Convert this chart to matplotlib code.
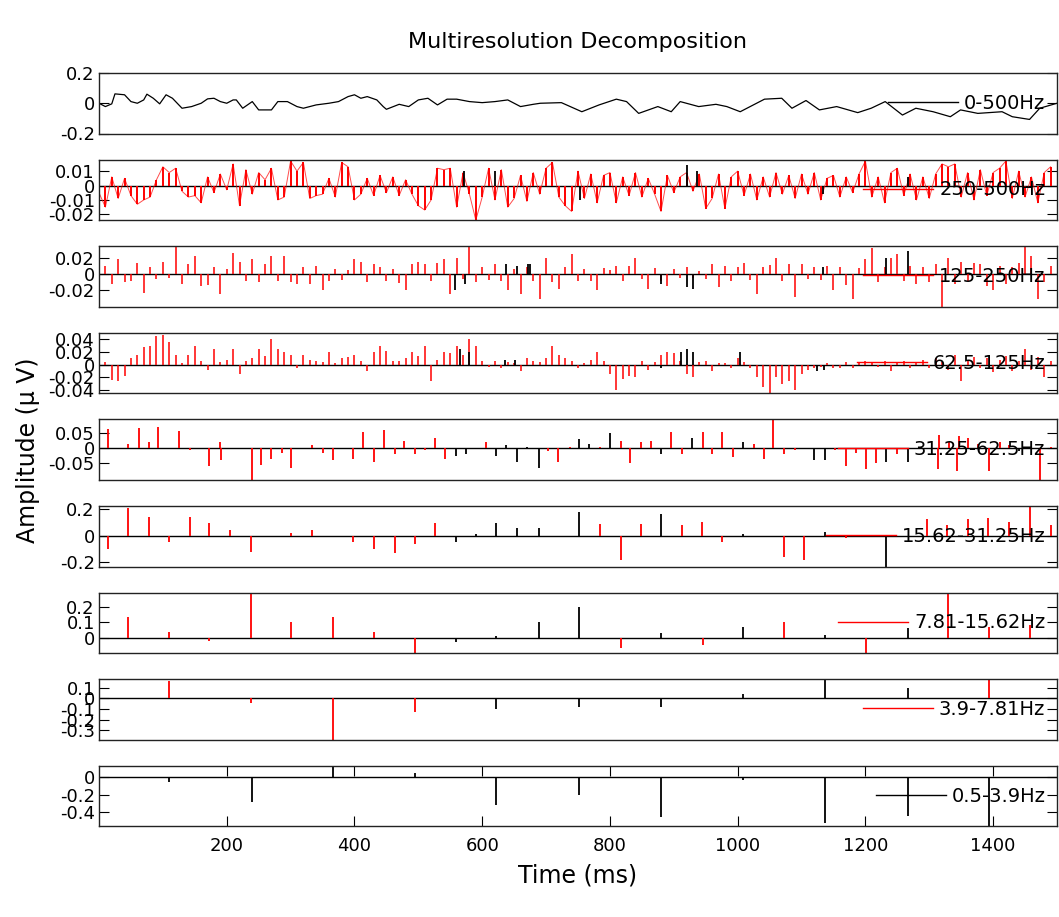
import numpy as np
import matplotlib
matplotlib.use("Agg")
import matplotlib.pyplot as plt
from matplotlib.lines import Line2D

# band names shown in the legends, top to bottom
bands = ['0-500Hz', '250-500Hz', '125-250Hz', '62.5-125Hz', '31.25-62.5Hz',
         '15.62-31.25Hz', '7.81-15.62Hz', '3.9-7.81Hz', '0.5-3.9Hz']

# 0-500Hz raw trace (time ms, amplitude)
raw_t = [0, 10, 20, 25, 40, 50, 60, 70, 75, 85, 95, 105, 115, 125, 130, 145, 160, 170,
         180, 190, 200, 210, 215, 225, 240, 250, 270, 280, 295, 310, 320, 340, 360, 375,
         390, 400, 410, 420, 435, 445, 450, 470, 485, 500, 515, 530, 545, 560, 580, 600,
         620, 640, 660, 680, 691, 724, 756, 783, 810, 826, 845, 875, 896, 910, 939, 966,
         983, 1004, 1042, 1069, 1085, 1107, 1128, 1155, 1188, 1209, 1231, 1258, 1279,
         1306, 1333, 1349, 1376, 1414, 1430, 1457, 1473, 1500]
raw_v = [0, -0.022, -0.004, 0.062, 0.056, 0.011, 0, 0.022, 0.06, 0.033, -0.004, 0.056,
         0.033, -0.011, -0.033, -0.022, 0, 0.029, 0.033, 0.011, 0, 0.022, 0.022, -0.033,
         0.011, -0.044, -0.044, 0.011, 0.011, -0.022, -0.033, -0.011, 0, 0.011, 0.044,
         0.056, 0.033, 0.044, 0.022, -0.022, -0.04, -0.007, -0.022, 0.022, 0.033, -0.011,
         0.027, 0.027, 0.011, 0.004, 0.011, 0.022, -0.022, -0.007, 0, 0.004, -0.056,
         -0.011, 0.027, 0.011, -0.067, -0.022, -0.056, 0.011, -0.022, -0.007, -0.022,
         -0.056, 0.027, 0.033, -0.033, 0.018, -0.044, -0.022, -0.062, -0.033, 0.011,
         -0.078, -0.033, -0.056, -0.089, -0.044, -0.067, -0.056, -0.089, -0.107, -0.033, 0]

# detail coefficients of the three finest bands, one value per 10 ms (units of 1e-3)
fine_t = np.arange(150) * 10
d250 = [-5, -15, 6, -9, 5, -7, -13, -10, -8, 4,
        13, 9, 12, -4, -8, -7, -12, 6, -5, 8,
        -3, 15, -14, 11, -6, 9, 4, 12, -10, -8,
        17, 10, 16, -9, -7, -6, 5, -8, 16, 13,
        -10, -6, 5, -7, 7, -5, 6, -7, 4, -6,
        -14, -17, -10, 12, 11, 12, -15, 9, -6, -24,
        -8, 12, -10, 11, -15, -9, 7, -11, 9, -6,
        12, 16, -8, -14, -18, 10, -9, 8, -12, 7,
        9, -12, 6, -7, 9, -8, 5, -6, -18, 7,
        -5, 6, 9, -4, 8, -16, -9, 8, -16, 6,
        10, -7, 8, -10, 6, -8, 9, -6, 7, -9,
        8, -6, 9, -10, 5, 7, -8, 6, -5, 8,
        17, -8, 6, -12, 9, 12, -7, 8, -10, 6,
        -9, 8, 15, 13, 15, -8, 9, -10, 11, -7,
        9, 12, 17, -9, 10, -8, 6, -12, 9, 13]
d125 = [-28, 10, -12, 18, -10, -8, 13, -23, 9, -6,
        15, -5, 35, -12, 12, 22, -15, -14, 8, -25,
        6, 26, 15, -8, 18, -10, 12, 22, -9, 22,
        -10, -12, 8, -12, 10, -20, -8, 6, -7, 5,
        18, 15, -10, 12, 8, -9, 6, -11, -20, 12,
        15, 12, -8, 14, 18, -25, 20, -6, 35, -10,
        8, -7, 12, -9, -20, 6, -25, 9, -8, -30,
        20, -10, -18, 8, 25, -8, 6, -9, -20, 7,
        5, 10, -8, 10, 20, -6, -18, 7, -9, -15,
        6, -5, 8, -5, 4, -6, 12, -16, 10, -8,
        9, 14, -7, -25, 8, 11, 20, -9, 12, -28,
        12, -6, 8, -7, 10, -20, 9, -14, -30, 7,
        18, 32, -10, 9, 20, 25, -8, 10, -12, 9,
        -10, 12, -40, 20, -12, 15, -9, 14, 12, -15,
        -20, 10, -12, 9, 14, 35, 22, -30, -10, 10]
d62 = [10, 4, -24, -26, -18, 10, 15, 27, 30, 45,
       47, 35, 15, 3, 15, 29, 6, -8, 25, 4,
       8, 25, -15, 5, 10, 25, 14, 40, 25, 20,
       15, -5, 15, 8, 5, 4, 20, 3, 10, 12,
       15, 6, -10, 20, 30, 22, 6, 5, 10, 20,
       14, 30, -25, 8, 20, 18, 30, 15, 40, 30,
       5, -4, 6, -5, 4, 3, -10, 10, 5, 4,
       10, 30, 15, 10, 5, -5, 3, 8, 20, 6,
       -15, -40, -22, -18, -20, 5, -8, 4, 15, 20,
       18, 6, -15, -20, 4, 5, -10, 3, 2, -6,
       10, 4, -5, -20, -35, -44, -20, -30, -25, -40,
       -15, -8, -5, -4, 3, -5, -6, 4, -5, 3,
       6, 3, -4, 5, -10, 4, 6, -5, 3, 8,
       -6, 10, 4, -8, 15, -25, 8, 12, -6, 10,
       -12, 8, 14, -10, 6, 25, -8, 12, -20, 6]

# black (non-significant) coefficients of the fine bands: (time ms, amplitude)
blk250 = [(571, 0.010), (620, 0.010), (753, -0.010), (920, 0.014), (937, 0.010),
          (1134, -0.006), (1266, 0.006)]
blk125 = [(557, -0.020), (573, -0.012), (638, 0.012), (654, 0.010), (672, 0.012),
          (675, 0.012), (880, -0.012), (920, -0.016), (930, -0.018), (1133, 0.008),
          (1233, 0.020), (1266, 0.028)]
blk62 = [(565, 0.025), (579, 0.020), (635, 0.008), (651, 0.008), (880, -0.005),
         (912, 0.020), (920, 0.025), (930, 0.020), (1004, 0.020), (1125, -0.010),
         (1135, -0.008)]

# coarse bands: sparse spikes (time ms, amplitude)
red31 = [(14, 0.065), (46, 0.015), (62, 0.068), (78, 0.02), (93, 0.072), (126, 0.057),
         (142, -0.005), (173, -0.058), (189, 0.02), (191, -0.04), (239, -0.105),
         (254, -0.055), (270, -0.035), (286, -0.015), (301, -0.065), (333, 0.01),
         (350, -0.015), (366, -0.04), (398, -0.035), (414, 0.055), (430, -0.045),
         (446, 0.06), (463, -0.02), (478, 0.025), (494, -0.02), (511, -0.005),
         (526, 0.035), (542, -0.035), (606, 0.02), (703, -0.01), (719, -0.045),
         (737, 0.005), (784, 0.005), (817, 0.025), (832, -0.05), (848, 0.02),
         (864, 0.025), (896, 0.055), (913, -0.02), (945, 0.055), (960, -0.02),
         (976, 0.055), (993, -0.03), (1025, 0.015), (1041, -0.035), (1056, 0.094),
         (1073, -0.02), (1089, -0.005), (1153, -0.005), (1169, -0.06), (1185, -0.015),
         (1201, -0.07), (1217, -0.05), (1250, -0.02), (1314, -0.07), (1316, 0.045),
         (1331, 0.02), (1344, -0.075), (1346, 0.04), (1360, 0.035), (1376, 0.015),
         (1394, -0.075), (1410, 0.02), (1425, 0.01), (1474, -0.105), (1490, 0.005)]
blk31 = [(559, -0.025), (574, -0.02), (622, -0.025), (638, 0.01), (654, -0.045),
         (670, 0.005), (689, -0.065), (752, 0.03), (768, 0.015), (800, 0.05),
         (880, -0.02), (929, 0.035), (1008, 0.02), (1120, -0.04), (1136, -0.04),
         (1233, -0.045), (1266, -0.045), (1441, -0.01)]
red15 = [(14, -0.1), (46, 0.205), (78, 0.136), (109, -0.05), (142, 0.14), (173, 0.09),
         (205, 0.04), (238, -0.12), (301, 0.02), (333, 0.04), (398, -0.05), (430, -0.1),
         (463, -0.13), (494, -0.06), (526, 0.09), (784, 0.085), (817, -0.178),
         (848, 0.085), (913, 0.08), (944, 0.1), (976, -0.05), (1072, -0.16),
         (1104, -0.18), (1169, -0.02), (1297, 0.12), (1328, 0.08), (1360, 0.12),
         (1392, 0.13), (1425, 0.1), (1457, 0.21), (1490, 0.08)]
blk15 = [(559, -0.045), (591, 0.01), (622, 0.09), (654, 0.06), (689, 0.06),
         (752, 0.175), (880, 0.16), (1008, 0.01), (1136, 0.03), (1233, -0.23)]
red7 = [(46, 0.135), (109, 0.035), (173, -0.02), (238, 0.29), (301, 0.1), (366, 0.13),
        (430, 0.035), (494, -0.1), (817, -0.07), (945, -0.05), (1073, 0.1),
        (1201, -0.1), (1329, 0.29), (1394, 0.07), (1457, 0.08)]
blk7 = [(559, -0.03), (622, 0.01), (689, 0.1), (752, 0.2), (880, 0.03), (1008, 0.07),
        (1136, 0.015), (1266, 0.06)]
red3 = [(109, 0.16), (238, -0.04), (366, -0.39), (494, -0.13), (1394, 0.18)]
blk3 = [(622, -0.1), (752, -0.08), (880, -0.08), (1008, 0.04), (1136, 0.18), (1266, 0.1)]
blk05 = [(110, -0.06), (239, -0.28), (366, 0.12), (494, 0.05), (622, -0.32),
         (752, -0.2), (880, -0.45), (1008, -0.03), (1136, -0.52), (1266, -0.44),
         (1394, -0.56)]

yticks = [[-0.2, 0, 0.2], [-0.02, -0.01, 0, 0.01], [-0.02, 0, 0.02],
          [-0.04, -0.02, 0, 0.02, 0.04], [-0.05, 0, 0.05], [-0.2, 0, 0.2],
          [0, 0.1, 0.2], [-0.3, -0.2, -0.1, 0, 0.1], [-0.4, -0.2, 0]]
ylims = [(-0.2, 0.2), (-0.024, 0.018), (-0.04, 0.034), (-0.045, 0.05),
         (-0.105, 0.097), (-0.23, 0.22), (-0.1, 0.29), (-0.39, 0.18), (-0.56, 0.126)]
xticks = [200, 400, 600, 800, 1000, 1200, 1400]

W, H = 1059, 917
LEFT, RIGHT = 99, 1057
TOP0, PANEL_H, STEP = 73, 60.5, 86.6


def spikes(ax, pairs, color):
    t = [p[0] for p in pairs]
    v = [p[1] for p in pairs]
    ax.vlines(t, 0, v, color=color, lw=1.3)


def main():
    fig = plt.figure(figsize=(W / 100, H / 100), dpi=100, facecolor='white')
    fig.text(578 / W, 1 - 42 / H, 'Multiresolution Decomposition',
             ha='center', va='center', fontsize=16)
    fig.text(28 / W, 1 - 450 / H, 'Amplitude (\u03bc V)', rotation=90,
             ha='center', va='center', fontsize=17)
    fig.text(578 / W, 1 - 875 / H, 'Time (ms)', ha='center', va='center', fontsize=17)

    axes = []
    for i in range(9):
        top = TOP0 + i * STEP
        ax = fig.add_axes([LEFT / W, 1 - (top + PANEL_H) / H,
                           (RIGHT - LEFT) / W, PANEL_H / H])
        axes.append(ax)

    fine = [None, (d250, blk250), (d125, blk125), (d62, blk62)]
    coarse = [None, None, None, None, (red31, blk31), (red15, blk15),
              (red7, blk7), (red3, blk3), ([], blk05)]

    for i, ax in enumerate(axes):
        if i == 0:
            ax.plot(raw_t, raw_v, color='black', lw=0.9)
            hcol = 'black'
        else:
            ax.axhline(0, color='black', lw=1.0, zorder=1)
            if i <= 3:
                vals, blk = fine[i]
                y = np.array(vals) * 1e-3
                ax.vlines(fine_t, 0, y, color='red', lw=1.4 if i == 1 else 1.1)
                if i == 1:
                    ax.plot(fine_t, y, color='red', lw=0.7, alpha=0.7)
                spikes(ax, blk, 'black')
            else:
                red, blk = coarse[i]
                spikes(ax, red, 'red')
                spikes(ax, blk, 'black')
            hcol = 'black' if i == 8 else 'red'

        handle = Line2D([], [], color=hcol, lw=1.0)
        ax.legend([handle], [bands[i]], loc='center right', frameon=False, fontsize=14,
                  handlelength=3.6, handletextpad=0.3, borderaxespad=0.2)

        ax.set_xlim(0, 1500)
        ax.set_ylim(*ylims[i])
        ax.set_yticks(yticks[i])
        ax.set_yticklabels([f'{v:g}' for v in yticks[i]])
        ax.tick_params(axis='y', direction='in', length=7, left=True, right=True,
                       labelsize=13, pad=3)
        if i == 8:
            ax.set_xticks(xticks)
            ax.tick_params(axis='x', direction='in', length=7, top=True, bottom=True,
                           labelsize=13, pad=8)
        else:
            ax.set_xticks([])
        for s in ax.spines.values():
            s.set_linewidth(1.0)
            s.set_color('#222222')

    fig.savefig('out.png', dpi=100, facecolor='white')


if __name__ == "__main__":
    main()
